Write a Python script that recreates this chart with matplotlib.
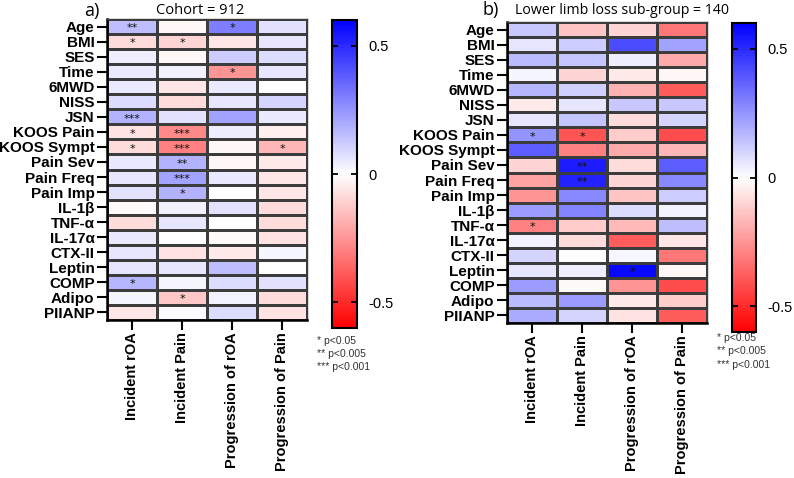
import numpy as np
import matplotlib
matplotlib.use("Agg")
import matplotlib.pyplot as plt
from matplotlib.colors import LinearSegmentedColormap

rows = ["Age", "BMI", "SES", "Time", "6MWD", "NISS", "JSN", "KOOS Pain", "KOOS Sympt",
        "Pain Sev", "Pain Freq", "Pain Imp", "IL-1β", "TNF-α", "IL-17α", "CTX-II",
        "Leptin", "COMP", "Adipo", "PIIANP"]
cols = ["Incident rOA", "Incident Pain", "Progression of rOA", "Progression of Pain"]

vals_a = [
    [0.15, -0.02, 0.30, 0.07],
    [-0.08, -0.10, -0.06, 0.06],
    [0.04, -0.02, 0.12, 0.08],
    [0.05, 0.03, -0.25, 0.06],
    [0.05, -0.06, 0.05, 0.00],
    [0.08, -0.08, 0.06, 0.10],
    [0.18, 0.07, 0.22, 0.05],
    [-0.07, -0.28, 0.04, -0.04],
    [-0.08, -0.30, -0.02, -0.17],
    [0.05, 0.18, -0.02, -0.05],
    [0.06, 0.22, 0.05, -0.06],
    [0.07, 0.18, 0.00, -0.06],
    [-0.01, 0.03, 0.07, -0.08],
    [-0.08, 0.06, 0.00, -0.08],
    [0.05, 0.00, -0.01, -0.07],
    [0.06, -0.07, -0.05, 0.02],
    [0.06, 0.06, 0.15, 0.00],
    [0.17, 0.02, 0.08, 0.07],
    [0.02, -0.13, 0.03, -0.08],
    [-0.06, 0.01, 0.08, -0.07],
]
stars_a = [
    ["**", "", "*", ""], ["*", "*", "", ""], ["", "", "", ""], ["", "", "*", ""],
    ["", "", "", ""], ["", "", "", ""], ["***", "", "", ""], ["*", "***", "", ""],
    ["*", "***", "", "*"], ["", "**", "", ""], ["", "***", "", ""], ["", "*", "", ""],
    ["", "", "", ""], ["", "", "", ""], ["", "", "", ""], ["", "", "", ""],
    ["", "", "", ""], ["*", "", "", ""], ["", "*", "", ""], ["", "", "", ""],
]

vals_b = [
    [0.13, -0.14, -0.10, -0.32],
    [0.06, 0.12, 0.42, 0.22],
    [0.16, 0.14, 0.04, -0.20],
    [0.02, -0.10, -0.05, -0.02],
    [0.17, 0.11, -0.18, -0.38],
    [-0.05, 0.06, 0.13, 0.13],
    [0.06, 0.14, -0.08, 0.10],
    [0.25, -0.40, -0.12, -0.42],
    [0.38, -0.30, -0.20, -0.17],
    [-0.10, 0.53, -0.08, 0.38],
    [-0.22, 0.52, -0.10, 0.28],
    [-0.25, 0.28, -0.14, 0.12],
    [0.23, 0.29, 0.08, 0.03],
    [-0.30, -0.12, -0.16, 0.15],
    [0.03, -0.08, -0.38, -0.06],
    [0.10, 0.00, 0.02, -0.32],
    [0.06, 0.04, 0.58, -0.02],
    [0.23, -0.01, -0.25, -0.42],
    [0.16, 0.23, -0.05, -0.12],
    [0.20, 0.10, -0.07, -0.38],
]
stars_b = [
    ["", "", "", ""], ["", "", "", ""], ["", "", "", ""], ["", "", "", ""],
    ["", "", "", ""], ["", "", "", ""], ["", "", "", ""], ["*", "*", "", ""],
    ["", "", "", ""], ["", "**", "", ""], ["", "**", "", ""], ["", "", "", ""],
    ["", "", "", ""], ["*", "", "", ""], ["", "", "", ""], ["", "", "", ""],
    ["", "", "*", ""], ["", "", "", ""], ["", "", "", ""], ["", "", "", ""],
]

cbar_ticks = [-0.5, 0, 0.5]
cbar_labels = ["-0.5", "0", "0.5"]

W, H = 794, 478
fig = plt.figure(figsize=(W / 100, H / 100), dpi=100)
cmap = LinearSegmentedColormap.from_list("rwb", ["#ff0000", "#ffffff", "#0000ff"])
vmin, vmax = -0.6, 0.6

def px(x0, y0, x1, y1):
    return [x0 / W, 1 - y1 / H, (x1 - x0) / W, (y1 - y0) / H]

ylab_font = dict(family="Liberation Sans", weight="bold", size=11)
xlab_font = dict(family="Liberation Sans", weight="bold", size=10.5)

def panel(hm_box, cb_box, vals, stars):
    ax = fig.add_axes(px(*hm_box))
    data = np.array(vals)
    m = ax.pcolormesh(data, cmap=cmap, vmin=vmin, vmax=vmax,
                      edgecolors="#3c3c3c", linewidth=1.0)
    ax.set_xlim(0, len(cols))
    ax.set_ylim(len(rows), 0)
    for i in range(len(rows)):
        for j in range(len(cols)):
            s = stars[i][j]
            if s:
                ax.text(j + 0.5, i + 0.62, s, ha="center", va="center",
                        fontsize=8, color="#111111", family="DejaVu Sans")
    ax.set_yticks(np.arange(len(rows)) + 0.5)
    ax.set_yticklabels(rows, fontdict=ylab_font)
    ax.set_xticks(np.arange(len(cols)) + 0.5)
    ax.set_xticklabels(cols, fontdict=xlab_font, rotation=90)
    ax.tick_params(axis="both", length=7, width=1.5, color="black", pad=2)
    for sp in ax.spines.values():
        sp.set_linewidth(1.0)
        sp.set_color("#3c3c3c")
    for sp in ["left", "bottom"]:
        ax.spines[sp].set_linewidth(1.8)
        ax.spines[sp].set_color("black")
    cax = fig.add_axes(px(*cb_box))
    cb = fig.colorbar(m, cax=cax)
    cb.set_ticks(cbar_ticks)
    cb.set_ticklabels(cbar_labels)
    cb.outline.set_linewidth(1.5)
    cax.tick_params(axis="y", which="both", direction="in", length=4, width=1.3,
                    left=True, right=True, labelsize=10.5, pad=8)
    for t in cax.get_yticklabels():
        t.set_family("Liberation Sans")
    return ax

panel((107, 19, 307, 320), (332, 20, 357, 328), vals_a, stars_a)
panel((507, 22, 707, 323), (732, 23, 756, 332), vals_b, stars_b)

fig.text(84 / W, 1 - 11 / H, "a)", fontsize=13, family="Open Sans", va="center", ha="left")
fig.text(200 / W, 1 - 11 / H, "Cohort = 912", fontsize=10.5, family="Open Sans", va="center", ha="center")
fig.text(482 / W, 1 - 10 / H, "b)", fontsize=13, family="Open Sans", va="center", ha="left")
fig.text(515 / W, 1 - 10 / H, "Lower limb loss sub-group = 140", fontsize=10.2,
         family="Open Sans", va="center", ha="left")

leg = ["* p<0.05", "** p<0.005", "*** p<0.001"]
for k, t in enumerate(leg):
    fig.text(317 / W, 1 - (341 + 13 * k) / H, t, fontsize=7.5, color="#333333",
             family="Liberation Sans", va="center", ha="left")
    fig.text(717 / W, 1 - (338 + 13.5 * k) / H, t, fontsize=7.5, color="#333333",
             family="Liberation Sans", va="center", ha="left")

fig.savefig("out.png", dpi=100)
